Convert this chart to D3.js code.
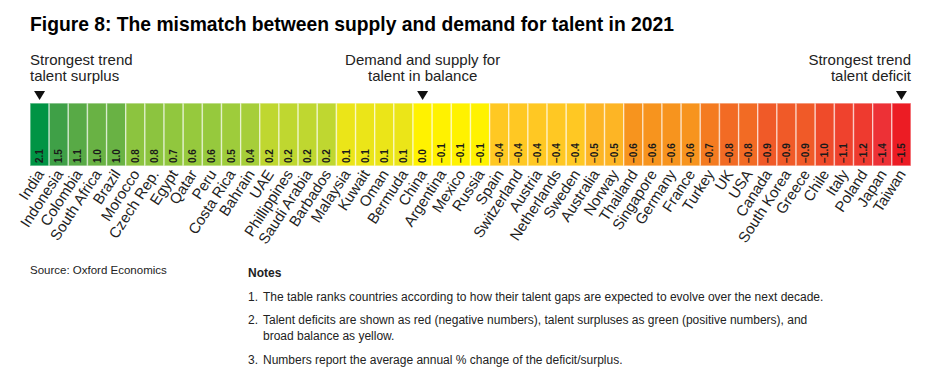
<!DOCTYPE html>
<html>
<head>
<meta charset="utf-8">
<script src="https://cdn.jsdelivr.net/npm/d3@7"></script>
<style>
  body { margin: 0; background: #fff; }
  svg { display: block; }
  .narrow { font-family: "Liberation Sans Narrow", "Arial Narrow", "Liberation Sans", Arial, sans-serif; }
</style>
</head>
<body>
<div id="chart"></div>
<script>
// talent gap, average annual % change, ranked surplus -> deficit
const countries = ["India", "Indonesia", "Colombia", "South Africa", "Brazil", "Morocco", "Czech Rep.",
  "Egypt", "Qatar", "Peru", "Costa Rica", "Bahrain", "UAE", "Phillippines", "Saudi Arabia", "Barbados",
  "Malaysia", "Kuwait", "Oman", "Bermuda", "China", "Argentina", "Mexico", "Russia", "Spain",
  "Switzerland", "Austria", "Netherlands", "Sweden", "Australia", "Norway", "Thailand", "Singapore",
  "Germany", "France", "Turkey", "UK", "USA", "Canada", "South Korea", "Greece", "Chile", "Italy",
  "Poland", "Japan", "Taiwan"]
const values = [2.1, 1.5, 1.1, 1.0, 1.0, 0.8, 0.8, 0.7, 0.6, 0.6, 0.5, 0.4, 0.2, 0.2, 0.2, 0.2,
  0.1, 0.1, 0.1, 0.1, 0.0, -0.1, -0.1, -0.1, -0.4, -0.4, -0.4, -0.4, -0.4, -0.5, -0.5, -0.6, -0.6,
  -0.6, -0.6, -0.7, -0.8, -0.8, -0.9, -0.9, -0.9, -1.0, -1.1, -1.2, -1.4, -1.5]
const markers = [
  {country: "India", lines: ["Strongest trend", "talent surplus"], anchor: "start"},
  {country: "China", lines: ["Demand and supply for", "talent in balance"], anchor: "middle"},
  {country: "Taiwan", lines: ["Strongest trend", "talent deficit"], anchor: "end"}
]
const notes = [
  ["The table ranks countries according to how their talent gaps are expected to evolve over the next decade."],
  ["Talent deficits are shown as red (negative numbers), talent surpluses as green (positive numbers), and",
   "broad balance as yellow."],
  ["Numbers report the average annual % change of the deficit/surplus."]
]

let data = countries.map((c, i) => ({country: c, value: values[i]}))

const width = 932, height = 388
const barTop = 103, barBottom = 166

let svg = d3.select("#chart").append("svg")
    .attr("width", width)
    .attr("height", height)

let x = d3.scaleBand().domain(countries).range([30, 911]).padding(0)

let color = d3.scaleLinear()
    .domain([-1.5, -1.4, -1.2, -1.0, -0.9, -0.8, -0.7, -0.6, -0.5, -0.4, -0.1, 0.0, 0.1, 0.2, 0.4, 0.6, 0.8, 1.0, 1.1, 1.5, 2.1])
    .range(["#ec1c24", "#ed3136", "#ee3a2f", "#ef4b2a", "#f05a28", "#f26b24", "#f47b20", "#f7941e",
            "#fdb525", "#ffc823", "#fff200", "#fff200", "#ebe518", "#bfd730", "#a6ce39", "#96c93d",
            "#8cc43f", "#69b244", "#58aa46", "#3fa047", "#009444"])
    .clamp(true)

svg.append("text")
    .attr("x", 30)
    .attr("y", 31)
    .style("font-family", "Liberation Sans, Arial, sans-serif")
    .style("font-weight", "bold")
    .style("font-size", "19.3px")
    .text("Figure 8: The mismatch between supply and demand for talent in 2021")

// colour cells
svg.append("g")
    .selectAll("rect")
    .data(data)
    .enter()
    .append("rect")
    .attr("x", d => x(d.country))
    .attr("y", barTop)
    .attr("width", x.bandwidth())
    .attr("height", barBottom - barTop)
    .attr("fill", d => color(d.value))
    .attr("stroke", "#fff")
    .attr("stroke-opacity", 0.55)
    .attr("stroke-width", 1.4)

// values inside cells
svg.append("g")
    .selectAll("text")
    .data(data)
    .enter()
    .append("text")
    .attr("class", "narrow")
    .attr("transform", d => `translate(${x(d.country) + x.bandwidth() / 2 + 3.5}, ${barBottom - 3}) rotate(-90)`)
    .style("font-size", "10px")
    .style("font-weight", "bold")
    .style("fill", "#1a1a1a")
    .text(d => d3.format(".1f")(d.value))

// country names
svg.append("g")
    .selectAll("text")
    .data(data)
    .enter()
    .append("text")
    .attr("transform", d => `translate(${x(d.country) + x.bandwidth() / 2 + 5}, ${barBottom + 8}) rotate(-57)`)
    .style("text-anchor", "end")
    .style("font-family", "Liberation Sans, Arial, sans-serif")
    .style("font-size", "15px")
    .style("fill", "#222")
    .text(d => d.country)

// markers above the bar
let mark = svg.append("g")
    .selectAll("g")
    .data(markers)
    .enter()
    .append("g")

mark.append("path")
    .attr("d", d => {
        let cx = x(d.country) + x.bandwidth() / 2
        return `M${cx - 5.5},${91} L${cx + 5.5},${91} L${cx},${100} Z`
    })
    .attr("fill", "#111")

mark.each(function(d) {
    let cx = x(d.country) + x.bandwidth() / 2
    let tx = d.anchor === "start" ? 30 : d.anchor === "end" ? 911 : cx
    d3.select(this).selectAll("text")
        .data(d.lines)
        .enter()
        .append("text")
        .attr("class", "narrow")
        .attr("x", tx)
        .attr("y", (l, i) => 65 + i * 16)
        .style("text-anchor", d.anchor)
        .style("font-size", "15px")
        .style("fill", "#222")
        .text(l => l)
})

// source and notes
svg.append("text")
    .attr("class", "narrow")
    .attr("x", 30)
    .attr("y", 274)
    .style("font-size", "11.5px")
    .style("fill", "#222")
    .text("Source: Oxford Economics")

svg.append("text")
    .attr("class", "narrow")
    .attr("x", 248)
    .attr("y", 277)
    .style("font-size", "12px")
    .style("font-weight", "bold")
    .style("fill", "#222")
    .text("Notes")

let noteY = [301, 324, 364]
notes.forEach(function(lines, i) {
    svg.append("text")
        .attr("class", "narrow")
        .attr("x", 248)
        .attr("y", noteY[i])
        .style("font-size", "12px")
        .style("fill", "#222")
        .text((i + 1) + ".")
    lines.forEach(function(l, j) {
        svg.append("text")
            .attr("class", "narrow")
            .attr("x", 263)
            .attr("y", noteY[i] + j * 16)
            .style("font-size", "12px")
            .style("fill", "#222")
            .text(l)
    })
})
</script>
</body>
</html>
